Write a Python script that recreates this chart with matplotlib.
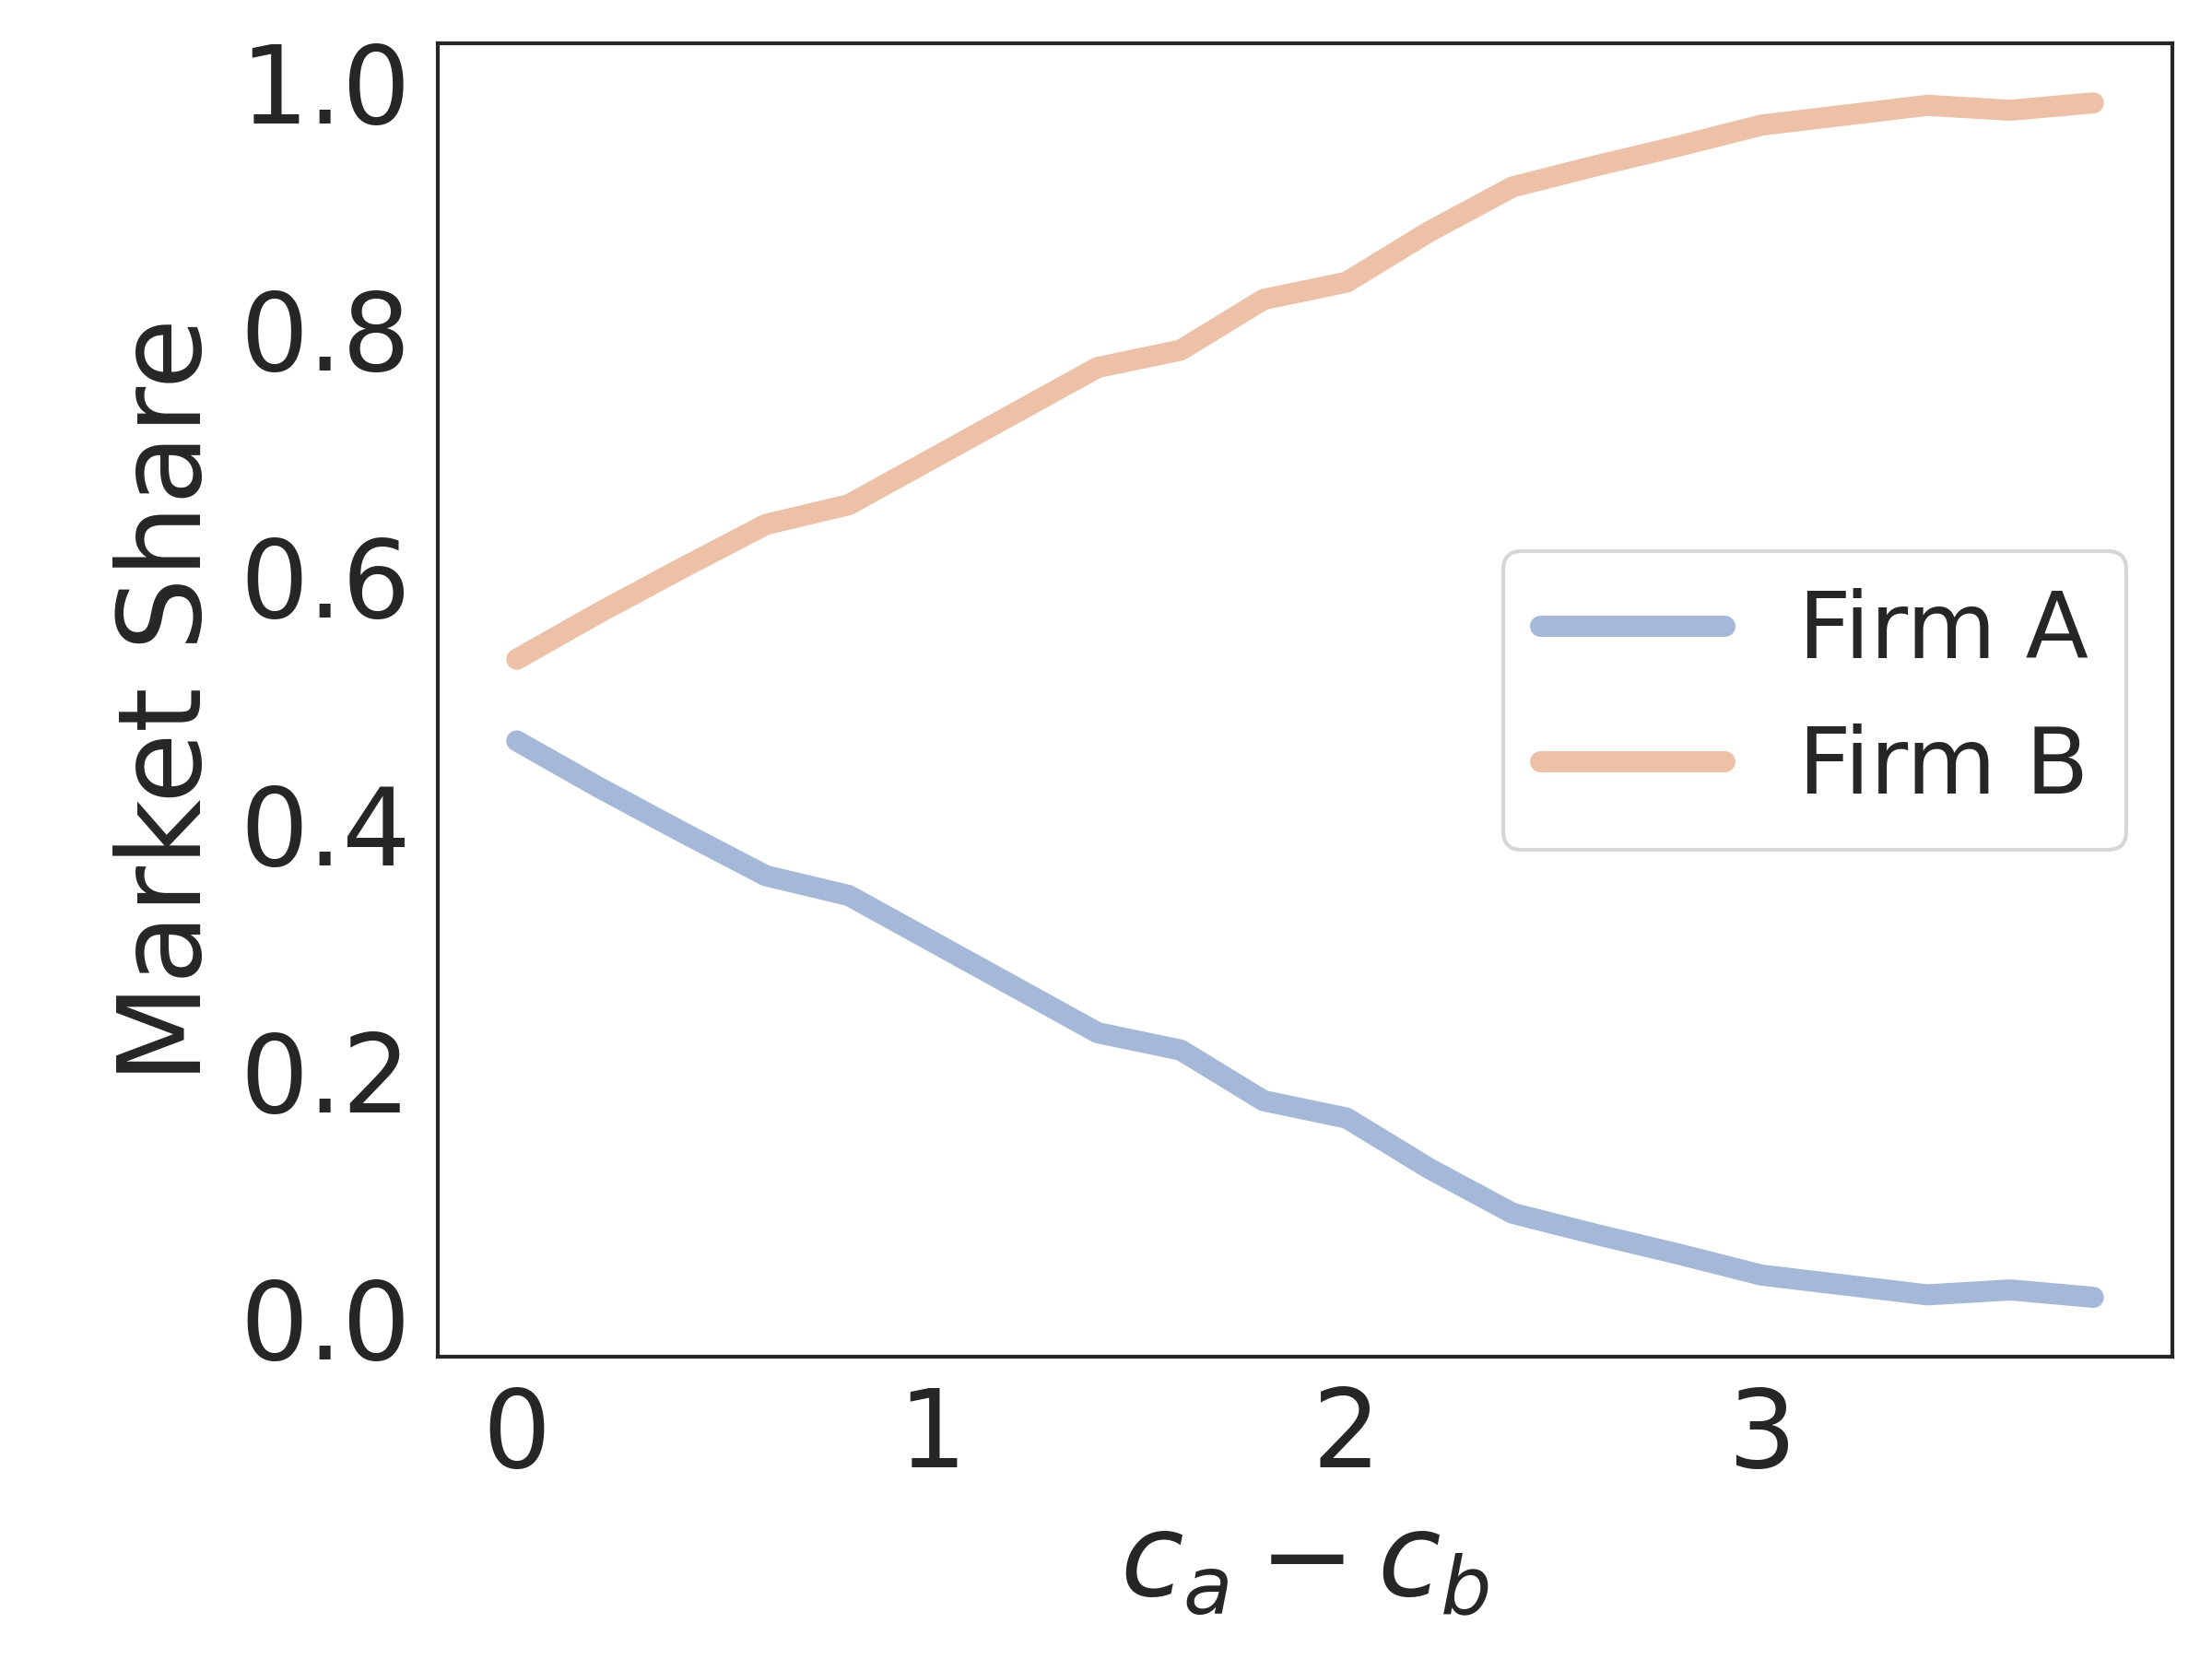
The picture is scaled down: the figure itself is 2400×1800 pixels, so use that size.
import matplotlib
matplotlib.use("Agg")
import matplotlib.pyplot as plt
import seaborn as sns

cost_diff = [0.0, 0.2, 0.4, 0.6, 0.8, 1.0, 1.2, 1.4, 1.6, 1.8,
             2.0, 2.2, 2.4, 2.6, 2.8, 3.0, 3.2, 3.4, 3.6, 3.8]
firm_b = [0.533, 0.571, 0.607, 0.642, 0.658, 0.695, 0.732, 0.769, 0.783, 0.824,
          0.838, 0.879, 0.915, 0.932, 0.948, 0.965, 0.973, 0.981, 0.977, 0.983]
firm_a = [0.467, 0.429, 0.393, 0.358, 0.342, 0.305, 0.268, 0.231, 0.217, 0.176,
          0.162, 0.121, 0.085, 0.068, 0.052, 0.035, 0.027, 0.019, 0.023, 0.017]

sns.set_style("white")
plt.rcParams['font.family'] = ['DejaVu Sans']
pal = sns.color_palette("deep")

fig = plt.figure(figsize=(8, 6), dpi=300)
ax = fig.add_axes([0.198, 0.182, 0.784, 0.792])
ax.plot(cost_diff, firm_a, color=pal[0], alpha=0.5, lw=5.5,
        solid_capstyle='round', label='Firm A')
ax.plot(cost_diff, firm_b, color=pal[1], alpha=0.5, lw=5.5,
        solid_capstyle='round', label='Firm B')

for s in ax.spines.values():
    s.set_linewidth(1.0)
    s.set_color('#262626')

ax.set_xticks([0, 1, 2, 3])
ax.set_yticks([0.0, 0.2, 0.4, 0.6, 0.8, 1.0])
ax.set_yticklabels(['0.0', '0.2', '0.4', '0.6', '0.8', '1.0'])
ax.tick_params(axis='both', labelsize=28, colors='#262626')
ax.set_xlabel(r'$c_a - c_b$', fontsize=30, color='#262626', labelpad=5)
ax.set_ylabel('Market Share', fontsize=30, color='#262626')
ax.legend(loc='center right', fontsize=24, handlelength=2.0)

fig.savefig('out.png', dpi=300)
